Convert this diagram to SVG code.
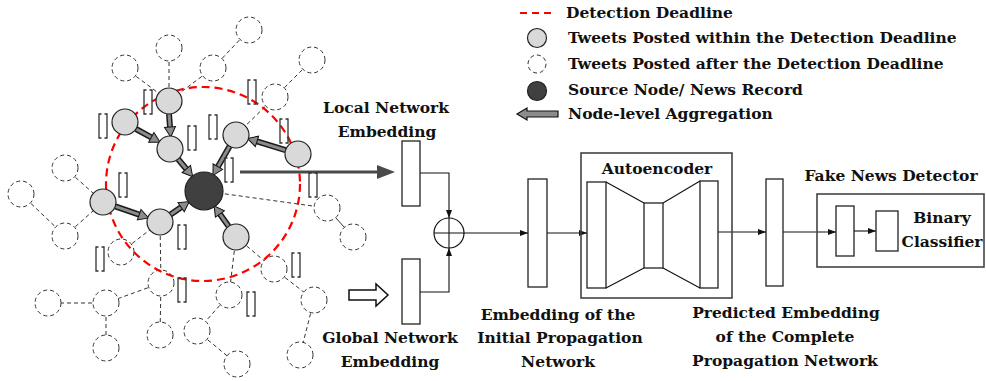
<svg xmlns="http://www.w3.org/2000/svg" xmlns:xlink="http://www.w3.org/1999/xlink" width="986" height="381" viewBox="0 0 986 381">
<style>
text{font-family:"DejaVu Serif","Liberation Serif",serif;font-weight:bold;font-size:15.5px;fill:#111}
.c{text-anchor:middle}
.dn{fill:#fff;stroke:#333;stroke-width:1;stroke-dasharray:4 3}
.gn{fill:#d9d9d9;stroke:#222;stroke-width:1.2}
.sn{fill:#404040;stroke:#222;stroke-width:1.2}
.de{stroke:#333;stroke-width:1;stroke-dasharray:4 3;fill:none}
.se{stroke:#333;stroke-width:1;fill:none}
.agO{stroke:#1a1a1a;stroke-width:6;fill:none}
.agI{stroke:#8c8c8c;stroke-width:3;fill:none}
.red{fill:none;stroke:#f00;stroke-width:2.2;stroke-dasharray:8 5}
.bx{fill:#fff;stroke:#222;stroke-width:1.3}
.ob{fill:none;stroke:#444;stroke-width:1.6}
.pl{stroke:#111;stroke-width:1.1;fill:none}
.vec{fill:none;stroke:#333;stroke-width:1.3}
</style>
<defs>
<marker id="ah" viewBox="0 0 12 12" refX="0" refY="6" markerWidth="12" markerHeight="12" markerUnits="userSpaceOnUse" orient="auto" overflow="visible">
<path d="M0,0.5 L10,6 L0,11.5 Z" fill="#8c8c8c" stroke="#111" stroke-width="1"/>
</marker>
<marker id="sa" viewBox="0 0 8 6" refX="8" refY="3" markerWidth="8" markerHeight="6" markerUnits="userSpaceOnUse" orient="auto">
<path d="M0,0 L8,3 L0,6 Z" fill="#111"/>
</marker>
<path id="v" class="vec" d="M3.5,0 H1 V24 H3.5 M6.5,0 H9 V24 H6.5"/>
</defs>
<rect width="986" height="381" fill="#fff"/>

<g id="connectors">
<g id="graph-edges">
<line class="de" x1="125" y1="68" x2="169" y2="101"/>
<line class="de" x1="169" y1="48" x2="169" y2="101"/>
<line class="de" x1="213" y1="68" x2="169" y2="101"/>
<line class="de" x1="249" y1="30" x2="213" y2="68"/>
<line class="de" x1="312" y1="60" x2="275" y2="97"/>
<line class="de" x1="275" y1="97" x2="236" y2="135"/>
<line class="de" x1="65" y1="168" x2="103" y2="202"/>
<line class="de" x1="21" y1="194" x2="65" y2="236"/>
<line class="de" x1="65" y1="236" x2="103" y2="202"/>
<line class="de" x1="121" y1="252" x2="160" y2="222"/>
<line class="de" x1="160" y1="222" x2="161" y2="283"/>
<line class="de" x1="161" y1="283" x2="106" y2="303"/>
<line class="de" x1="106" y1="303" x2="48" y2="303"/>
<line class="de" x1="106" y1="303" x2="106" y2="348"/>
<line class="de" x1="161" y1="283" x2="160" y2="335"/>
<line class="de" x1="236" y1="237" x2="229" y2="295"/>
<line class="de" x1="229" y1="295" x2="197" y2="331"/>
<line class="de" x1="197" y1="331" x2="237" y2="364"/>
<line class="de" x1="236" y1="237" x2="274" y2="269"/>
<line class="de" x1="274" y1="269" x2="314" y2="300"/>
<line class="de" x1="314" y1="300" x2="300" y2="355"/>
<line class="de" x1="204" y1="191" x2="327" y2="208"/>
<line class="se" x1="327" y1="208" x2="353" y2="237"/>
</g>
<g id="aggregation-arrows">
<line class="agO" x1="169" y1="114" x2="170" y2="127"/><line class="agI" x1="169" y1="114" x2="170" y2="127" marker-end="url(#ah)"/>
<line class="agO" x1="136" y1="129" x2="151.3" y2="137.4"/><line class="agI" x1="136" y1="129" x2="151.3" y2="137.4" marker-end="url(#ah)"/>
<line class="agO" x1="178" y1="159" x2="186.3" y2="169"/><line class="agI" x1="178" y1="159" x2="186.3" y2="169" marker-end="url(#ah)"/>
<line class="agO" x1="285.6" y1="150.2" x2="257" y2="141.4"/><line class="agI" x1="285.6" y1="150.2" x2="257" y2="141.4" marker-end="url(#ah)"/>
<line class="agO" x1="229.6" y1="146.3" x2="217.9" y2="166.7"/><line class="agI" x1="229.6" y1="146.3" x2="217.9" y2="166.7" marker-end="url(#ah)"/>
<line class="agO" x1="115.3" y1="206.3" x2="139.2" y2="214.7"/><line class="agI" x1="115.3" y1="206.3" x2="139.2" y2="214.7" marker-end="url(#ah)"/>
<line class="agO" x1="170.6" y1="214.5" x2="181.1" y2="207.2"/><line class="agI" x1="170.6" y1="214.5" x2="181.1" y2="207.2" marker-end="url(#ah)"/>
<line class="agO" x1="228.6" y1="226.3" x2="219.9" y2="214"/><line class="agI" x1="228.6" y1="226.3" x2="219.9" y2="214" marker-end="url(#ah)"/>
</g>
<g id="pipeline-connectors">
<line x1="240" y1="172" x2="379" y2="172" stroke="#4a4a4a" stroke-width="3"/>
<polygon points="377,165 395,172 377,179" fill="#4a4a4a"/>
<polygon points="349,290 376,290 376,284 388,295 376,306 376,300 349,300" fill="#fff" stroke="#111" stroke-width="1.5"/>
<path class="pl" d="M420,173 H449 V218" marker-end="url(#sa)"/>
<path class="pl" d="M420,292 H449 V248" marker-end="url(#sa)"/>
<line class="pl" x1="464" y1="233" x2="528" y2="233" marker-end="url(#sa)"/>
<line class="pl" x1="547" y1="233" x2="587" y2="233" marker-end="url(#sa)"/>
<line class="pl" x1="718" y1="232" x2="766" y2="232" marker-end="url(#sa)"/>
<line class="pl" x1="783" y1="232" x2="836" y2="232" marker-end="url(#sa)"/>
<line class="pl" x1="854" y1="231" x2="876" y2="231" marker-end="url(#sa)"/>
</g>
</g>

<g id="later-tweets">
<circle class="dn" cx="125" cy="68" r="13"/>
<circle class="dn" cx="169" cy="48" r="13"/>
<circle class="dn" cx="213" cy="68" r="13"/>
<circle class="dn" cx="249" cy="30" r="13"/>
<circle class="dn" cx="312" cy="60" r="13"/>
<circle class="dn" cx="275" cy="97" r="13"/>
<circle class="dn" cx="65" cy="168" r="13"/>
<circle class="dn" cx="21" cy="194" r="13"/>
<circle class="dn" cx="65" cy="236" r="13"/>
<circle class="dn" cx="121" cy="252" r="13"/>
<circle class="dn" cx="161" cy="283" r="13"/>
<circle class="dn" cx="106" cy="303" r="13"/>
<circle class="dn" cx="48" cy="303" r="13"/>
<circle class="dn" cx="106" cy="348" r="13"/>
<circle class="dn" cx="160" cy="335" r="13"/>
<circle class="dn" cx="229" cy="295" r="13"/>
<circle class="dn" cx="197" cy="331" r="13"/>
<circle class="dn" cx="237" cy="364" r="13"/>
<circle class="dn" cx="274" cy="269" r="13"/>
<circle class="dn" cx="314" cy="300" r="13"/>
<circle class="dn" cx="300" cy="355" r="13"/>
<circle class="dn" cx="327" cy="208" r="13"/>
<circle class="dn" cx="353" cy="237" r="13"/>
</g>

<g id="deadline">
<circle class="red" cx="203" cy="184" r="97"/>
</g>

<g id="early-tweets">
<circle class="gn" cx="169" cy="101" r="13"/>
<circle class="gn" cx="125" cy="122" r="13"/>
<circle class="gn" cx="170" cy="149" r="13"/>
<circle class="gn" cx="236" cy="135" r="13"/>
<circle class="gn" cx="298" cy="154" r="13"/>
<circle class="gn" cx="103" cy="202" r="13"/>
<circle class="gn" cx="160" cy="222" r="13"/>
<circle class="gn" cx="236" cy="237" r="13"/>
</g>

<g id="source-node">
<circle class="sn" cx="204" cy="191" r="19"/>
</g>

<g id="node-vectors">
<use xlink:href="#v" x="98" y="114"/>
<use xlink:href="#v" x="143" y="90"/>
<use xlink:href="#v" x="187" y="126"/>
<use xlink:href="#v" x="208" y="115"/>
<use xlink:href="#v" x="247" y="80"/>
<use xlink:href="#v" x="279" y="119"/>
<use xlink:href="#v" x="224" y="158"/>
<use xlink:href="#v" x="308" y="173"/>
<use xlink:href="#v" x="118" y="173"/>
<use xlink:href="#v" x="177" y="225"/>
<use xlink:href="#v" x="95" y="247"/>
<use xlink:href="#v" x="177" y="278"/>
<use xlink:href="#v" x="246" y="292"/>
<use xlink:href="#v" x="291" y="253"/>
</g>

<g id="legend">
<line x1="520" y1="13" x2="555" y2="13" stroke="#f00" stroke-width="2" stroke-dasharray="7 5"/>
<text x="566" y="18">Detection Deadline</text>
<circle class="gn" cx="537" cy="38" r="9.5"/>
<text x="568" y="43">Tweets Posted within the Detection Deadline</text>
<circle class="dn" cx="537" cy="64" r="9" stroke-dasharray="3 2.5"/>
<text x="568" y="69">Tweets Posted after the Detection Deadline</text>
<circle class="sn" cx="537" cy="91" r="9.5"/>
<text x="568" y="95">Source Node/ News Record</text>
<polygon points="517,114 527,108 527,111 558,111 558,117 527,117 527,120" fill="#8c8c8c" stroke="#111" stroke-width="1.2"/>
<text x="568" y="119">Node-level Aggregation</text>
</g>

<g id="local-embedding">
<rect class="bx" x="402" y="141" width="18" height="65"/>
<text class="c" x="386" y="113">Local Network</text>
<text class="c" x="387" y="137">Embedding</text>
</g>

<g id="global-embedding">
<rect class="bx" x="402" y="259" width="18" height="65"/>
<text class="c" x="390" y="343">Global Network</text>
<text class="c" x="390" y="367">Embedding</text>
</g>

<g id="sum">
<circle cx="449" cy="233" r="15" fill="#fff" stroke="#111" stroke-width="1.2"/>
<path d="M434,233 H464 M449,218 V248" stroke="#111" stroke-width="1.1"/>
</g>

<g id="initial-embedding">
<rect class="bx" x="528" y="179" width="19" height="108"/>
<text class="c" x="558" y="320">Embedding of the</text>
<text class="c" x="560" y="343">Initial Propagation</text>
<text class="c" x="558" y="367">Network</text>
</g>

<g id="autoencoder">
<rect class="ob" x="581" y="153" width="151" height="145"/>
<text class="c" x="657" y="174">Autoencoder</text>
<rect class="bx" x="587" y="182" width="19" height="106"/>
<rect class="bx" x="644" y="203" width="19" height="65"/>
<rect class="bx" x="700" y="181" width="18" height="107"/>
<path class="pl" d="M606,182 L644,203 M606,288 L644,268 M663,203 L700,181 M663,268 L700,288"/>
</g>

<g id="predicted-embedding">
<rect class="bx" x="766" y="179" width="17" height="107"/>
<text class="c" x="786" y="318">Predicted Embedding</text>
<text class="c" x="785" y="342">of the Complete</text>
<text class="c" x="785" y="366">Propagation Network</text>
</g>

<g id="fake-news-detector">
<rect class="ob" x="817" y="194" width="167" height="73"/>
<text class="c" x="891" y="181">Fake News Detector</text>
<rect class="bx" x="836" y="206" width="18" height="50"/>
<rect class="bx" x="876" y="211" width="22" height="40"/>
<text class="c" x="942" y="223">Binary</text>
<text class="c" x="942" y="247">Classifier</text>
</g>
</svg>
